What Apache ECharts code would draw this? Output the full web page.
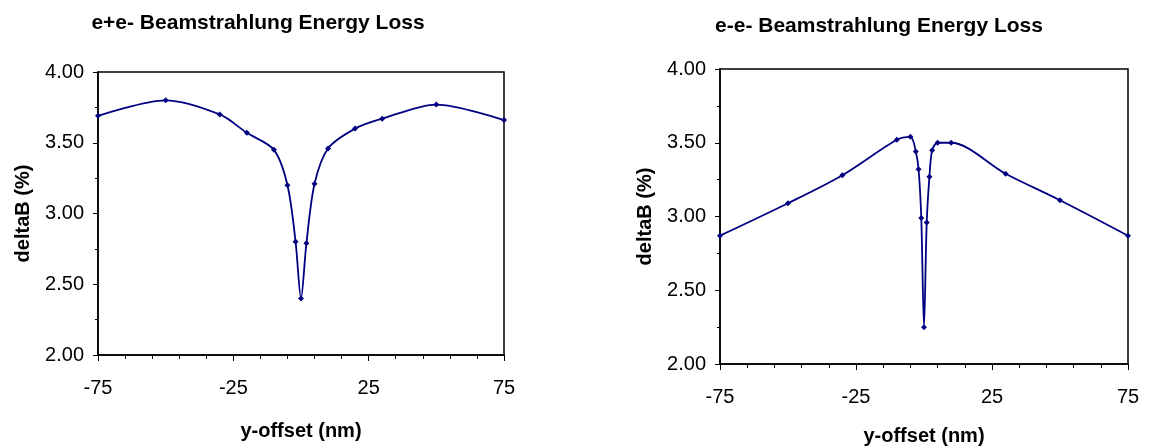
<!DOCTYPE html>
<html>
<head>
<meta charset="utf-8">
<script src="https://cdn.jsdelivr.net/npm/echarts@6/dist/echarts.min.js"></script>
<style>
html,body{margin:0;padding:0;background:#fff;}
#chart{width:1149px;height:448px;}
</style>
</head>
<body>
<div id="chart"></div>
<script>
// ---- data ----
var leftTitle = "e+e- Beamstrahlung Energy Loss";
var rightTitle = "e-e- Beamstrahlung Energy Loss";
var xAxisName = "y-offset (nm)";
var yAxisName = "deltaB (%)";

var leftX = [-75, -50, -30, -20, -10, -5, -2, 0, 2, 5, 10, 20, 30, 50, 75];
var leftY = [3.69, 3.80, 3.70, 3.57, 3.45, 3.20, 2.80, 2.40, 2.79, 3.21, 3.46, 3.60, 3.67, 3.77, 3.66];

var rightX = [-75, -50, -30, -10, -5, -3, -2, -1, 0, 1, 2, 3, 5, 10, 30, 50, 75];
var rightY = [2.87, 3.09, 3.28, 3.52, 3.54, 3.44, 3.32, 2.99, 2.25, 2.96, 3.27, 3.45, 3.50, 3.50, 3.29, 3.11, 2.87];

var xMajorTicks = [-75, -25, 25, 75];
var xMinorTicks = [-65, -55, -45, -35, -15, -5, 5, 15, 35, 45, 55, 65];
var yMin = 2.0, yMax = 4.0, yStep = 0.5;
var xMin = -75, xMax = 75;

// ---- chart ----
var FONT = "'Liberation Sans', Arial, sans-serif";
var LINE = '#000080';

function pairs(xs, ys) { return xs.map(function (x, i) { return [x, ys[i]]; }); }

function xAxes(gi, gap) {
  return [{
    type: 'value', gridIndex: gi, min: xMin, max: xMax,
    name: xAxisName, nameLocation: 'middle', nameGap: gap,
    nameTextStyle: { fontFamily: FONT, fontSize: 20, fontWeight: 'bold', color: '#000' },
    axisLine: { show: true, onZero: false, lineStyle: { color: '#000', width: 1.5 } },
    axisTick: { show: true, length: 6, customValues: xMajorTicks, lineStyle: { color: '#000', width: 1 } },
    axisLabel: { customValues: xMajorTicks, margin: 23, fontFamily: FONT, fontSize: 20, color: '#000' },
    splitLine: { show: false }
  }, {
    type: 'value', gridIndex: gi, min: xMin, max: xMax, position: 'bottom',
    axisLine: { show: false, onZero: false },
    axisTick: { show: true, length: 4, customValues: xMinorTicks, lineStyle: { color: '#000', width: 1 } },
    axisLabel: { show: false },
    splitLine: { show: false }
  }];
}

function yAxis(gi) {
  return {
    type: 'value', gridIndex: gi, min: yMin, max: yMax, interval: yStep,
    name: yAxisName, nameLocation: 'middle', nameGap: 65,
    nameTextStyle: { fontFamily: FONT, fontSize: 20, fontWeight: 'bold', color: '#000' },
    axisLine: { show: true, onZero: false, lineStyle: { color: '#000', width: 1.5 } },
    axisTick: { show: true, length: 5, lineStyle: { color: '#000', width: 1 } },
    minorTick: { show: true, splitNumber: 2, length: 3, lineStyle: { color: '#000', width: 1 } },
    axisLabel: { margin: 14, fontFamily: FONT, fontSize: 20, color: '#000',
      formatter: function (v) { return v.toFixed(2); } },
    splitLine: { show: false }
  };
}

function series(xi, yi, data) {
  return {
    type: 'line', xAxisIndex: xi, yAxisIndex: yi, data: data,
    smooth: 0.3,
    symbol: 'diamond', symbolSize: 6, showSymbol: true,
    lineStyle: { color: LINE, width: 1.8 },
    itemStyle: { color: LINE },
    animation: false, z: 3
  };
}

var chart = echarts.init(document.getElementById('chart'), null, { renderer: 'canvas' });
var leftAxes = xAxes(0, 66), rightAxes = xAxes(1, 62);
chart.setOption({
  backgroundColor: '#fff',
  animation: false,
  graphic: [
    { type: 'text', x: 258, y: 23, style: { text: leftTitle, x: 0, y: 0, align: 'center', verticalAlign: 'middle', fontFamily: FONT, fontSize: 21, fontWeight: 'bold', fill: '#000' } },
    { type: 'text', x: 879, y: 26, style: { text: rightTitle, x: 0, y: 0, align: 'center', verticalAlign: 'middle', fontFamily: FONT, fontSize: 21, fontWeight: 'bold', fill: '#000' } }
  ],
  grid: [
    { left: 98, top: 72, width: 406, height: 283, show: true, borderColor: '#000', borderWidth: 1.5, backgroundColor: 'transparent', containLabel: false, outerBoundsMode: 'none' },
    { left: 720, top: 69, width: 408, height: 295, show: true, borderColor: '#000', borderWidth: 1.5, backgroundColor: 'transparent', containLabel: false, outerBoundsMode: 'none' }
  ],
  xAxis: [leftAxes[0], leftAxes[1], rightAxes[0], rightAxes[1]],
  yAxis: [yAxis(0), yAxis(1)],
  series: [
    series(0, 0, pairs(leftX, leftY)),
    series(2, 1, pairs(rightX, rightY))
  ]
});
</script>
</body>
</html>
